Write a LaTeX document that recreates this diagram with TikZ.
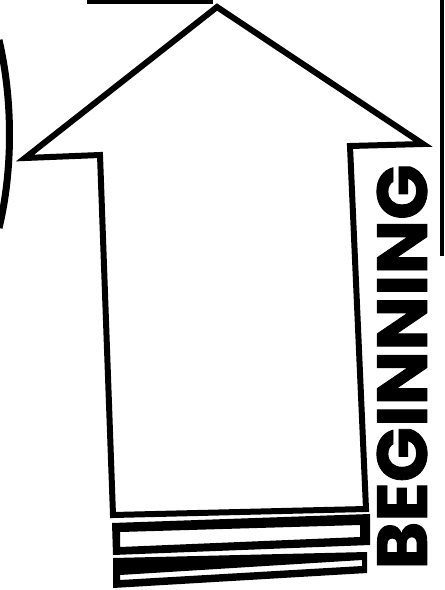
\documentclass[tikz,border=0pt]{standalone}
\usepackage{fontspec}
\newfontfamily\bannerfont{Poppins}[BoldFeatures={FakeBold=1.2}]
\usetikzlibrary{positioning}
\tikzset{
  every picture/.style={line join=miter, line cap=butt},
  outline/.style={draw=black, line width=#1},
  outline/.default=1.8mm,
  ink/.style={fill=black, even odd rule},
  banner/.style={font=\bannerfont\bfseries, inner sep=0pt, text=black},
}
\begin{document}
\begin{tikzpicture}[x=0.3mm, y=-0.3mm]
  \useasboundingbox (0,0) rectangle (445,590);
  \coordinate (baseL) at (113,515);
  \coordinate (neckL) at (100,155);
  \coordinate (barbL) at (25,158);
  \coordinate (tip)   at (217,7);
  \coordinate (barbR) at (423,144);
  \coordinate (neckR) at (350,146);
  \coordinate (baseR) at (366,509);
  \draw[outline] (baseL) -- (neckL) -- (barbL) -- (tip) -- (barbR) -- (neckR) -- (baseR) -- cycle;
  \fill[ink] (112,523) -- (370,514) -- (370,545) -- (113,555) -- cycle
             (120,532) -- (360,525) -- (360,537) -- (120,547) -- cycle;
  \fill[ink] (113,558) -- (367,552) -- (367,573) -- (113,588) -- cycle
             (120,575) -- (362,560) -- (362,566) -- (120,580) -- cycle;
  \draw[outline=2.1mm] (-1,40) .. controls (13,100) and (13,170) .. (-1,228);
  \draw[outline=1.2mm] (442,-2) -- (442,256);
  \draw[outline=1.8mm] (87,1) -- (213,1);
  \node[banner, rotate=90] (word) at (402,367) {\resizebox{121.5mm}{15mm}{BEGINNING}};
\end{tikzpicture}
\end{document}
